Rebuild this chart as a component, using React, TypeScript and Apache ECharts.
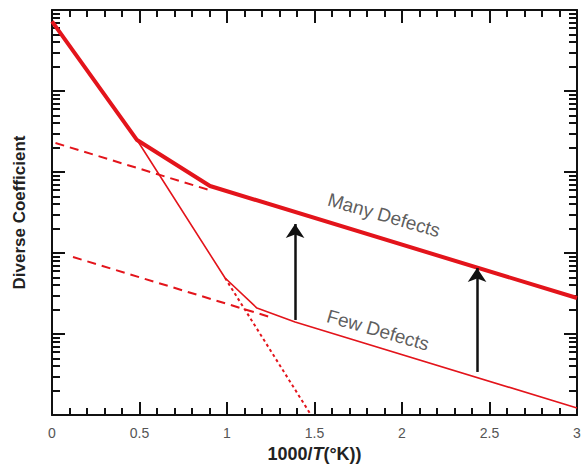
import React, { useEffect, useRef } from "react";
import * as echarts from "echarts";

// ---- data (x = 1000/T, y = diffusion coefficient, arbitrary log units) ----
const xTicks = [0, 0.5, 1, 1.5, 2, 2.5, 3];
const yDecades = [0, 1, 2, 3, 4, 5]; // exponents of the decade ticks (10^0 .. 10^5)
const manyDefects: number[][] = [[0, 72400], [0.486, 2480], [0.903, 671], [3, 27.8]];
const fewDefects: number[][] = [[0.486, 2480], [0.989, 49.1], [1.171, 20.9], [1.389, 14.1], [3, 1.22]];
const manyExtrapolation: number[][] = [[0.02, 2280], [0.91, 589]];
const fewExtrapolation: number[][] = [[0.12, 89.3], [1.263, 15.8]];
const intrinsicExtrapolation: number[][] = [[0.989, 49.1], [1.48, 1.0]];
const arrowX = [1.389, 2.429];
const arrowFrom = [14.9, 3.4];
const arrowTo = [228, 65.3];
const labelTexts = ["Many Defects", "Few Defects"];
const labelX = [1.897, 1.863];
const labelY = [294, 11.2];

const RED = "#e3141b";
const AXIS = "#111";

export default function App() {
  const ref = useRef<HTMLDivElement>(null);
  useEffect(() => {
    if (!ref.current) return;
    const chart = echarts.init(ref.current, undefined, { renderer: "svg" });
    const yMin = Math.pow(10, yDecades[0]);
    const yMax = Math.pow(10, yDecades[yDecades.length - 1]);
    const minorTicks: number[] = [];
    for (let i = 0; i < yDecades.length - 1; i++) {
      for (let k = 2; k <= 9; k++) minorTicks.push(yDecades[i] + Math.log10(k));
    }
    const xAxis = (position: string, showLabel: boolean, extra: any = {}) => ({
      type: "value",
      position,
      min: xTicks[0],
      max: xTicks[xTicks.length - 1],
      interval: 0.5,
      axisLine: { show: true, onZero: false, lineStyle: { color: AXIS, width: 2 } },
      axisTick: { show: true, inside: true, length: 13, lineStyle: { color: AXIS, width: 2 } },
      minorTick: { show: true, splitNumber: 5, length: 7, lineStyle: { color: AXIS, width: 2 } },
      splitLine: { show: false },
      minorSplitLine: { show: false },
      axisLabel: {
        show: showLabel,
        margin: 11,
        fontSize: 14,
        color: "#555",
        fontFamily: "Liberation Sans, Arial, sans-serif",
        showMinLabel: true,
        showMaxLabel: true,
      },
      ...extra,
    });
    const tickAxis = (position: string, values: number[], len: number) => ({
      type: "value",
      position,
      min: yDecades[0],
      max: yDecades[yDecades.length - 1],
      axisLine: { show: false, onZero: false },
      axisTick: { show: true, inside: true, length: len, customValues: values, lineStyle: { color: AXIS, width: 2 } },
      axisLabel: { show: false },
      splitLine: { show: false },
    });
    const lineSeries = (data: number[][], width: number, type: any = "solid", extra: any = {}) => ({
      type: "line",
      data,
      xAxisIndex: 0,
      yAxisIndex: 0,
      showSymbol: false,
      symbol: "none",
      silent: true,
      lineStyle: { color: RED, width, type },
      z: 3,
      ...extra,
    });
    chart.setOption({
      animation: false,
      backgroundColor: "#fff",
      grid: { left: 52, right: 5, top: 10, bottom: 55, outerBoundsMode: "none" },
      xAxis: [
        xAxis("bottom", true, {
          name: "{b|1000/}{i|T}{b|(°K))}",
          nameLocation: "middle",
          nameGap: 29,
          nameTextStyle: {
            rich: {
              b: { fontSize: 18, fontWeight: "bold", color: "#222", fontFamily: "Liberation Sans, Arial, sans-serif" },
              i: { fontSize: 18, fontWeight: "bold", fontStyle: "italic", color: "#222", fontFamily: "Liberation Sans, Arial, sans-serif" },
            },
          },
        }),
        xAxis("top", false),
      ],
      yAxis: [
        {
          type: "log",
          position: "left",
          min: yMin,
          max: yMax,
          logBase: 10,
          axisLine: { show: true, onZero: false, lineStyle: { color: AXIS, width: 2 } },
          axisTick: { show: false },
          axisLabel: { show: false },
          splitLine: { show: false },
          name: "Diverse Coefficient",
          nameLocation: "middle",
          nameGap: 24,
          nameTextStyle: { fontSize: 17, fontWeight: "bold", color: "#222", fontFamily: "Liberation Sans, Arial, sans-serif" },
        },
        tickAxis("left", yDecades, 13),
        tickAxis("left", minorTicks, 8),
        {
          ...tickAxis("right", yDecades, 13),
          axisLine: { show: true, onZero: false, lineStyle: { color: AXIS, width: 2 } },
        },
        tickAxis("right", minorTicks, 8),
      ],
      series: [
        lineSeries(manyExtrapolation, 2, [9, 6]),
        lineSeries(fewExtrapolation, 2, [9, 6]),
        lineSeries(intrinsicExtrapolation, 2, [3, 3]),
        lineSeries(fewDefects, 1.6),
        lineSeries(manyDefects, 4, "solid", {
          markLine: {
            silent: true,
            symbol: ["none", "arrow"],
            symbolSize: 14,
            label: { show: false },
            lineStyle: { color: "#111", width: 2.5, type: "solid" },
            emphasis: { disabled: true },
            data: arrowX.map((x, i) => [{ coord: [x, arrowFrom[i]] }, { coord: [x, arrowTo[i]] }]),
          },
        }),
        {
          type: "scatter",
          xAxisIndex: 0,
          yAxisIndex: 0,
          symbolSize: 1,
          silent: true,
          itemStyle: { color: "rgba(0,0,0,0)" },
          data: labelTexts.map((t, i) => ({ value: [labelX[i], labelY[i]], name: t })),
          label: {
            show: true,
            position: "inside",
            formatter: (p: any) => p.name,
            rotate: -16,
            fontSize: 19,
            color: "#333",
            fontFamily: "Liberation Sans, Arial, sans-serif",
          },
          z: 5,
        },
      ],
    });
    return () => chart.dispose();
  }, []);
  return (
    <div
      ref={ref}
      style={{ position: "fixed", left: 0, top: 0, width: 582, height: 470, background: "#fff" }}
    />
  );
}
